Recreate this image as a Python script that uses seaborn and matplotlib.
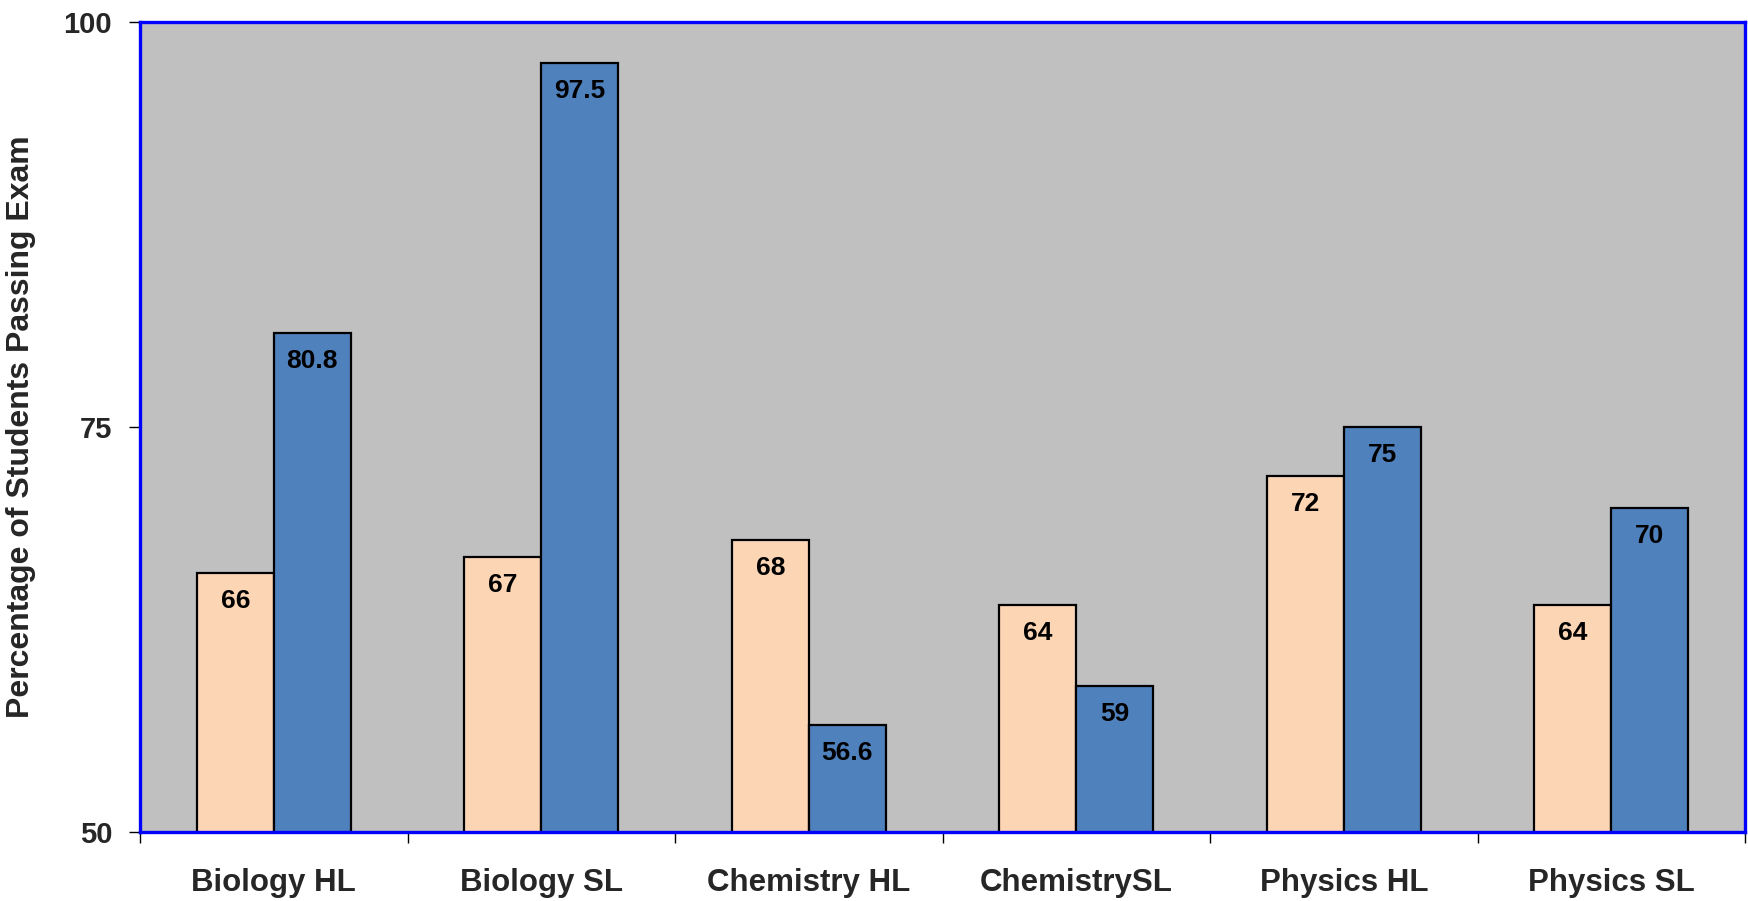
import pandas as pd
import numpy as np
import matplotlib
matplotlib.use('Agg')
import matplotlib.pyplot as plt
import seaborn as sns

# data
subjects = ['Biology HL', 'Biology SL', 'Chemistry HL', 'ChemistrySL', 'Physics HL', 'Physics SL']
series_names = ['Series A', 'Series B']
values_a = [66, 67, 68, 64, 72, 64]
values_b = [80.8, 97.5, 56.6, 59, 75, 70]
label_a = ['66', '67', '68', '64', '72', '64']
label_b = ['80.8', '97.5', '56.6', '59', '75', '70']
colors = ['#FCD5B4', '#4F81BD']

df = pd.DataFrame({
    'Subject': subjects * 2,
    'Series': [series_names[0]] * 6 + [series_names[1]] * 6,
    'Percent': values_a + values_b,
    'Label': label_a + label_b,
})

sns.set_theme(style="white")
plt.rcParams['font.family'] = ['Liberation Sans', 'DejaVu Sans']
plt.rcParams['font.weight'] = 'bold'

fig, ax = plt.subplots(figsize=(17.48, 9.01), dpi=100)
fig.subplots_adjust(left=140/1748, right=1745/1748, top=1-22/901, bottom=1-832/901)

sns.barplot(data=df, x='Subject', y='Percent', hue='Series', palette=colors,
            width=0.575, gap=0, edgecolor='black', linewidth=1.6, saturation=1,
            legend=False, ax=ax, order=subjects, hue_order=series_names)

ax.set_facecolor('#C0C0C0')
ax.set_ylim(50, 100)
ax.set_xlim(-0.5, len(subjects) - 0.5)
ax.set_yticks([50, 75, 100])
ax.set_yticklabels(['50', '75', '100'], fontsize=21, fontweight='bold')
ax.tick_params(axis='y', direction='out', length=8, width=1, color='black', pad=12, left=True)

# category labels at centres, tick marks at the boundaries
ax.set_xticks(range(len(subjects)))
ax.set_xticklabels(subjects, fontsize=22.5, fontweight='bold')
ax.set_xticks(np.arange(-0.5, len(subjects)), minor=True)
ax.tick_params(axis='x', which='major', length=0, pad=26)
ax.tick_params(axis='x', which='minor', length=8, width=1, color='black', direction='out', bottom=True)

ax.set_xlabel('')
ax.set_ylabel('Percentage of Students Passing Exam', fontsize=23, fontweight='bold', labelpad=20)

for sp in ax.spines.values():
    sp.set_color('#0000FF')
    sp.set_linewidth(2.4)
    sp.set_visible(True)

# value labels inside the top of each bar
for container, labels in zip(ax.containers, [label_a, label_b]):
    for bar, txt in zip(container, labels):
        x = bar.get_x() + bar.get_width() / 2
        y = bar.get_height()
        ax.annotate(txt, (x, y), xytext=(0, -28), textcoords='offset pixels',
                    ha='center', va='center', fontsize=19, fontweight='bold', color='black')

plt.savefig('out.png', dpi=100)
